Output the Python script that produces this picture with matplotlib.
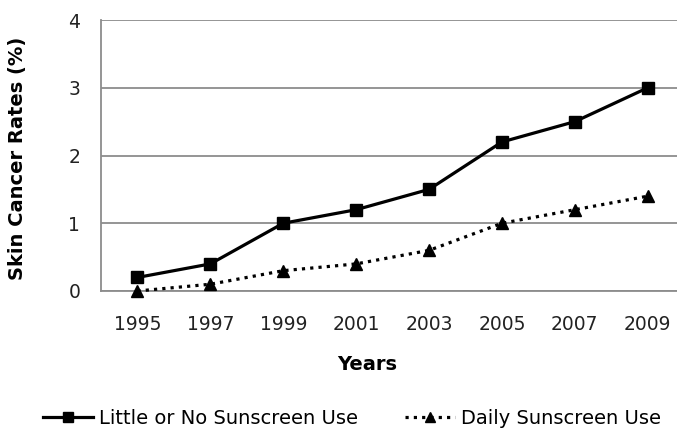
import matplotlib
matplotlib.use("Agg")
import matplotlib.pyplot as plt

years = ["1995", "1997", "1999", "2001", "2003", "2005", "2007", "2009"]
little_or_no = [0.2, 0.4, 1.0, 1.2, 1.5, 2.2, 2.5, 3.0]
daily = [0.0, 0.1, 0.3, 0.4, 0.6, 1.0, 1.2, 1.4]
y_ticks = [0, 1, 2, 3, 4]

plt.rcParams['font.family'] = ['DejaVu Sans']

W, H = 677, 428
fig = plt.figure(figsize=(W / 100, H / 100), dpi=100)
left, right, top, bottom = 101, 677, 20, 291
ax = fig.add_axes([left / W, 1 - bottom / H, (right - left) / W, (bottom - top) / H])

x = list(range(len(years)))
ax.plot(x, little_or_no, color='black', lw=2.3, marker='s', markersize=9,
        label='Little or No Sunscreen Use', clip_on=False, zorder=3)
ax.plot(x, daily, color='black', lw=2.3, ls=(0, (1, 1.6)), marker='^', markersize=9,
        label='Daily Sunscreen Use', clip_on=False, zorder=3)

step = 72.9
ax.set_xlim(-0.5, -0.5 + (right - left) / step)
ax.set_ylim(0, 4)
ax.set_xticks(x)
ax.set_xticklabels(years)
ax.set_yticks(y_ticks)
ax.tick_params(axis='both', length=0, labelsize=13.5, colors='#222222')
ax.tick_params(axis='x', pad=17)
ax.tick_params(axis='y', pad=15)
ax.grid(axis='y', color='#8c8c8c', lw=1.3)
ax.set_axisbelow(True)
for s in ['top', 'right']:
    ax.spines[s].set_visible(False)
for s in ['left', 'bottom']:
    ax.spines[s].set_color('#8c8c8c')
    ax.spines[s].set_linewidth(1.3)

ax.set_xlabel('Years', fontsize=14, fontweight='bold')
ax.set_ylabel('Skin Cancer Rates (%)', fontsize=14, fontweight='bold')
ax.xaxis.label.set_va('center')
ax.yaxis.label.set_va('center')
ax.xaxis.set_label_coords((367 - left) / (right - left), -(364 - bottom) / (bottom - top))
ax.yaxis.set_label_coords(-(left - 18) / (right - left), 1 - (158 - top) / (bottom - top))

fig.legend(loc='center', bbox_to_anchor=(352 / W, 1 - 418 / H), ncol=2, frameon=False,
           fontsize=14, handlelength=2.6, columnspacing=2.4, handletextpad=0.3,
           markerscale=0.75)

fig.savefig('out.png', dpi=100)
